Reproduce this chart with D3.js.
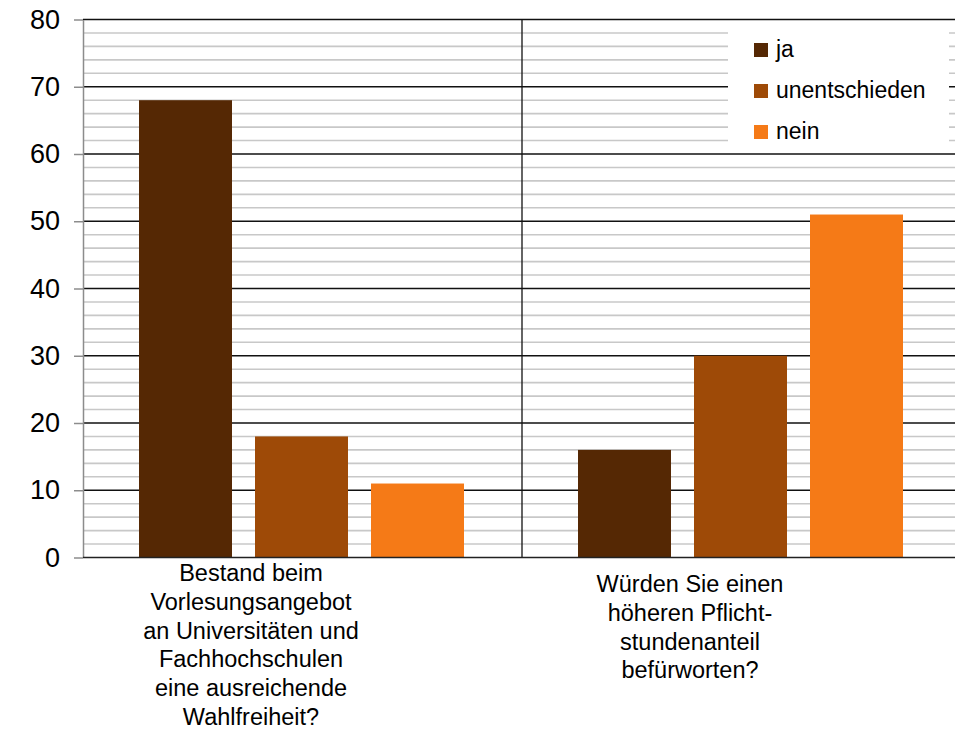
<!DOCTYPE html>
<html>
<head>
<meta charset="utf-8">
<script src="https://cdn.jsdelivr.net/npm/d3@7"></script>
<style>
  body { margin: 0; background: #fff; }
  svg { display: block; font-family: "Liberation Sans", Arial, sans-serif; }
</style>
</head>
<body>
<div id="chart"></div>
<script>
// categories (each label is split into the lines shown under the axis)
const categories = ["q1", "q2"];
const categoryLines = [
  ["Bestand beim", "Vorlesungsangebot", "an Universitäten und", "Fachhochschulen", "eine ausreichende", "Wahlfreiheit?"],
  ["Würden Sie einen", "höheren Pflicht-", "stundenanteil", "befürworten?"]
];
const seriesNames = ["ja", "unentschieden", "nein"];
const seriesColors = ["#552804", "#9e4a07", "#f57a17"];
// values per series, one per category
const jaValues = [68, 16];
const unentschiedenValues = [18, 30];
const neinValues = [11, 51];
const yTicks = [0, 10, 20, 30, 40, 50, 60, 70, 80];

const W = 955, H = 729;
const margin = {left: 83, top: 19.5, right: -6, bottom: 171.5};
const svg = d3.select("#chart").append("svg")
  .attr("width", W).attr("height", H);

const x = d3.scaleBand()
  .domain(categories)
  .range([margin.left, W - margin.right]);
const y = d3.scaleLinear()
  .domain([0, 80])
  .range([H - margin.bottom, margin.top]);

// minor grid (every 2)
const minor = d3.range(0, 81, 2).filter(v => v % 10 !== 0);
svg.append("g").selectAll("line").data(minor).join("line")
  .attr("x1", margin.left).attr("x2", W)
  .attr("y1", d => y(d)).attr("y2", d => y(d))
  .attr("stroke", "#c8c8c8").attr("stroke-width", 1.6);

// major grid
svg.append("g").selectAll("line").data(yTicks.filter(v => v > 0)).join("line")
  .attr("x1", margin.left).attr("x2", W)
  .attr("y1", d => y(d)).attr("y2", d => y(d))
  .attr("stroke", "#111").attr("stroke-width", 1.3);

// divider between the two categories
svg.append("line")
  .attr("x1", x("q2")).attr("x2", x("q2"))
  .attr("y1", y(80)).attr("y2", y(0))
  .attr("stroke", "#111").attr("stroke-width", 1.3);

// bars
const allValues = [jaValues, unentschiedenValues, neinValues];
const inner = d3.scaleBand()
  .domain(seriesNames)
  .range([56, 381])
  .paddingInner(23 / 116);
seriesNames.forEach((s, si) => {
  svg.append("g").selectAll("rect").data(allValues[si]).join("rect")
    .attr("x", (d, i) => x(categories[i]) + inner(s))
    .attr("width", inner.bandwidth())
    .attr("y", d => y(d))
    .attr("height", d => y(0) - y(d))
    .attr("fill", seriesColors[si]);
});

// y axis
const yAxis = svg.append("g")
  .attr("transform", `translate(${margin.left},0)`)
  .call(d3.axisLeft(y).tickValues(yTicks).tickSize(9).tickPadding(14).tickSizeOuter(0));
yAxis.select(".domain").attr("stroke", "#8c8c8c").attr("stroke-width", 1.5);
yAxis.selectAll(".tick line").attr("stroke", "#8c8c8c").attr("stroke-width", 1.5);
yAxis.selectAll(".tick text")
  .attr("font-size", 27).attr("fill", "#000")
  .attr("font-family", "Liberation Sans, Arial, sans-serif");

// x axis line
svg.append("line")
  .attr("x1", margin.left).attr("x2", W)
  .attr("y1", y(0)).attr("y2", y(0))
  .attr("stroke", "#222").attr("stroke-width", 1.6);

// category labels
const labelFirstBaseline = [581, 592];
categoryLines.forEach((lines, ci) => {
  const cx = x(categories[ci]) + x.bandwidth() / 2 - 51.5;
  const t = svg.append("text")
    .attr("text-anchor", "middle")
    .attr("font-size", 23.5)
    .attr("fill", "#000");
  lines.forEach((ln, li) => {
    t.append("tspan")
      .attr("x", cx)
      .attr("y", labelFirstBaseline[ci] + li * 28.8)
      .text(ln);
  });
});

// legend
const lg = svg.append("g");
lg.append("rect")
  .attr("x", 728).attr("y", 23).attr("width", 221).attr("height", 127)
  .attr("fill", "#fff");
seriesNames.forEach((s, i) => {
  lg.append("rect")
    .attr("x", 754).attr("y", 43 + i * 41)
    .attr("width", 14).attr("height", 14)
    .attr("fill", seriesColors[i]);
  lg.append("text")
    .attr("x", 776).attr("y", 57 + i * 41)
    .attr("font-size", 23).attr("fill", "#000")
    .text(s);
});
</script>
</body>
</html>
